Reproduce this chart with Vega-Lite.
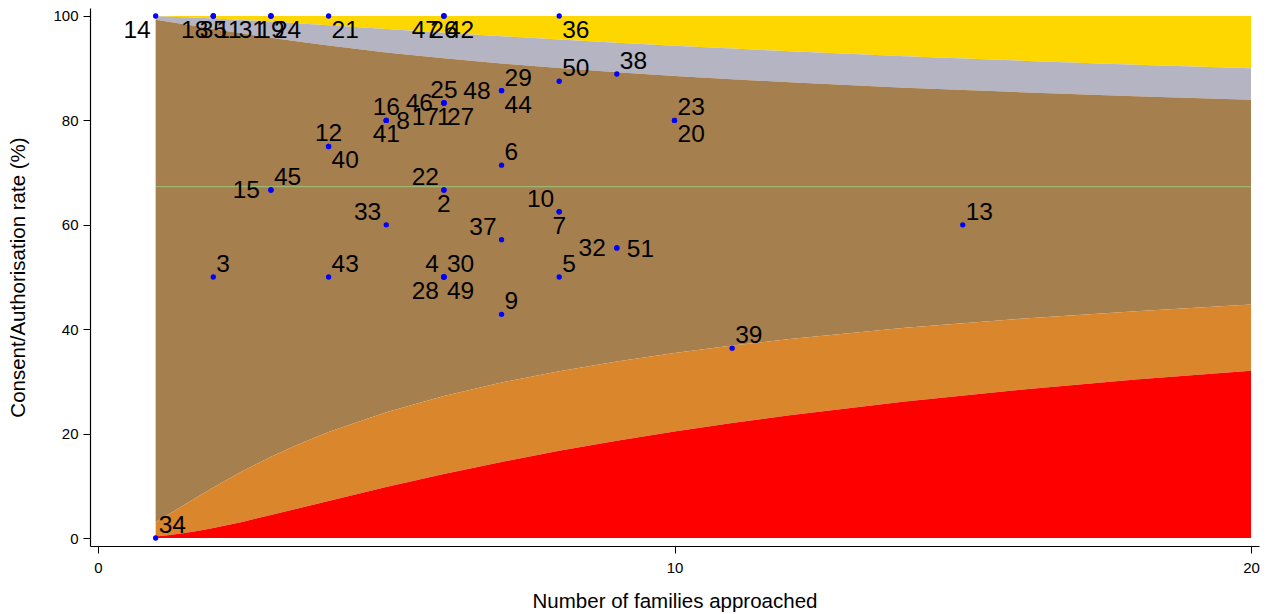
{
  "$schema": "https://vega.github.io/schema/vega-lite/v6.json",
  "width": 1169,
  "height": 538,
  "autosize": {"type": "none"},
  "padding": {"left": 90, "top": 8, "right": 10, "bottom": 68},
  "background": "white",
  "config": {"view": {"stroke": null}, "font": "Liberation Sans"},
  "datasets": {
    "bands": [
      {"n": 1, "l998": 0.28, "l95": 3.06, "u95": 99.26, "u998": 99.93},
      {"n": 1.25, "l998": 0.57, "l95": 4.68, "u95": 98.86, "u998": 99.87},
      {"n": 1.5, "l998": 0.94, "l95": 6.36, "u95": 98.42, "u998": 99.78},
      {"n": 1.75, "l998": 1.40, "l95": 8.04, "u95": 97.98, "u998": 99.67},
      {"n": 2, "l998": 1.92, "l95": 9.69, "u95": 97.53, "u998": 99.54},
      {"n": 2.5, "l998": 3.09, "l95": 12.78, "u95": 96.66, "u998": 99.25},
      {"n": 3, "l998": 4.39, "l95": 15.57, "u95": 95.83, "u998": 98.93},
      {"n": 3.5, "l998": 5.74, "l95": 18.07, "u95": 95.05, "u998": 98.58},
      {"n": 4, "l998": 7.10, "l95": 20.31, "u95": 94.33, "u998": 98.23},
      {"n": 5, "l998": 9.76, "l95": 24.11, "u95": 93.03, "u998": 97.51},
      {"n": 6, "l998": 12.27, "l95": 27.21, "u95": 91.89, "u998": 96.80},
      {"n": 7, "l998": 14.58, "l95": 29.79, "u95": 90.90, "u998": 96.13},
      {"n": 8, "l998": 16.70, "l95": 31.96, "u95": 90.02, "u998": 95.48},
      {"n": 9, "l998": 18.63, "l95": 33.83, "u95": 89.23, "u998": 94.87},
      {"n": 10, "l998": 20.40, "l95": 35.45, "u95": 88.52, "u998": 94.29},
      {"n": 11, "l998": 22.02, "l95": 36.87, "u95": 87.88, "u998": 93.75},
      {"n": 12, "l998": 23.51, "l95": 38.12, "u95": 87.30, "u998": 93.24},
      {"n": 14, "l998": 26.14, "l95": 40.26, "u95": 86.27, "u998": 92.29},
      {"n": 16, "l998": 28.39, "l95": 42.00, "u95": 85.40, "u998": 91.44},
      {"n": 18, "l998": 30.35, "l95": 43.46, "u95": 84.64, "u998": 90.67},
      {"n": 20, "l998": 32.06, "l95": 44.71, "u95": 83.97, "u998": 89.98}
    ],
    "pts": [
      {"id": "14", "n": 1, "rate": 100, "pos": "7"},
      {"id": "18", "n": 2, "rate": 100, "pos": "7"},
      {"id": "35", "n": 2, "rate": 100, "pos": "6"},
      {"id": "11", "n": 2, "rate": 100, "pos": "5"},
      {"id": "31", "n": 3, "rate": 100, "pos": "7"},
      {"id": "19", "n": 3, "rate": 100, "pos": "6"},
      {"id": "24", "n": 3, "rate": 100, "pos": "5"},
      {"id": "21", "n": 4, "rate": 100, "pos": "5"},
      {"id": "47", "n": 6, "rate": 100, "pos": "7"},
      {"id": "26", "n": 6, "rate": 100, "pos": "6"},
      {"id": "42", "n": 6, "rate": 100, "pos": "5"},
      {"id": "36", "n": 8, "rate": 100, "pos": "5"},
      {"id": "50", "n": 8, "rate": 87.5, "pos": "1"},
      {"id": "38", "n": 9, "rate": 88.89, "pos": "1"},
      {"id": "29", "n": 7, "rate": 85.71, "pos": "1"},
      {"id": "44", "n": 7, "rate": 85.71, "pos": "5"},
      {"id": "48", "n": 7, "rate": 85.71, "pos": "9"},
      {"id": "25", "n": 6, "rate": 83.33, "pos": "12"},
      {"id": "27", "n": 6, "rate": 83.33, "pos": "5"},
      {"id": "17", "n": 6, "rate": 83.33, "pos": "7"},
      {"id": "1", "n": 6, "rate": 83.33, "pos": "6"},
      {"id": "46", "n": 6, "rate": 83.33, "pos": "9"},
      {"id": "16", "n": 5, "rate": 80, "pos": "12"},
      {"id": "41", "n": 5, "rate": 80, "pos": "6"},
      {"id": "8", "n": 5, "rate": 80, "pos": "3"},
      {"id": "12", "n": 4, "rate": 75, "pos": "12"},
      {"id": "40", "n": 4, "rate": 75, "pos": "5"},
      {"id": "15", "n": 3, "rate": 66.67, "pos": "9"},
      {"id": "45", "n": 3, "rate": 66.67, "pos": "1"},
      {"id": "22", "n": 6, "rate": 66.67, "pos": "11"},
      {"id": "2", "n": 6, "rate": 66.67, "pos": "6"},
      {"id": "6", "n": 7, "rate": 71.43, "pos": "1"},
      {"id": "33", "n": 5, "rate": 60, "pos": "11"},
      {"id": "37", "n": 7, "rate": 57.14, "pos": "11"},
      {"id": "10", "n": 8, "rate": 62.5, "pos": "11"},
      {"id": "7", "n": 8, "rate": 62.5, "pos": "6"},
      {"id": "32", "n": 9, "rate": 55.56, "pos": "9"},
      {"id": "51", "n": 9, "rate": 55.56, "pos": "3"},
      {"id": "5", "n": 8, "rate": 50, "pos": "1"},
      {"id": "4", "n": 6, "rate": 50, "pos": "11"},
      {"id": "30", "n": 6, "rate": 50, "pos": "1"},
      {"id": "28", "n": 6, "rate": 50, "pos": "7"},
      {"id": "49", "n": 6, "rate": 50, "pos": "5"},
      {"id": "9", "n": 7, "rate": 42.86, "pos": "1"},
      {"id": "3", "n": 2, "rate": 50, "pos": "1"},
      {"id": "43", "n": 4, "rate": 50, "pos": "1"},
      {"id": "34", "n": 1, "rate": 0, "pos": "1"},
      {"id": "39", "n": 11, "rate": 36.36, "pos": "1"},
      {"id": "13", "n": 15, "rate": 60, "pos": "1"},
      {"id": "23", "n": 10, "rate": 80, "pos": "1"},
      {"id": "20", "n": 10, "rate": 80, "pos": "5"}
    ]
  },
  "layer": [
    {
      "data": {"name": "bands"},
      "mark": {"type": "area", "color": "#FFD700", "opacity": 1},
      "encoding": {
        "x": {"field": "n", "type": "quantitative", "scale": {"domain": [-0.1388, 20.1388], "nice": false, "zero": false},
          "axis": {"title": "Number of families approached", "values": [0, 10, 20], "format": "d", "grid": false,
            "domainColor": "#000000", "domainWidth": 1.2, "tickColor": "#000000", "tickSize": 7, "tickWidth": 1,
            "labelFont": "Liberation Sans", "labelFontSize": 15, "labelColor": "#000000", "labelPadding": 7,
            "titleFont": "Liberation Sans", "titleFontSize": 20.5, "titleFontWeight": "normal", "titleColor": "#000000",
            "titleX": 584.5, "titleY": 55, "titleBaseline": "middle", "titleAlign": "center"}},
        "y": {"field": "u998", "type": "quantitative", "scale": {"domain": [-1.531, 101.531], "nice": false, "zero": false},
          "axis": {"title": "Consent/Authorisation rate (%)", "values": [0, 20, 40, 60, 80, 100], "format": "d", "grid": false,
            "domainColor": "#000000", "domainWidth": 1.2, "tickColor": "#000000", "tickSize": 7, "tickWidth": 1,
            "labelFont": "Liberation Sans", "labelFontSize": 15, "labelColor": "#000000", "labelPadding": 5,
            "titleFont": "Liberation Sans", "titleFontSize": 20.5, "titleFontWeight": "normal", "titleColor": "#000000",
            "titleX": -72, "titleY": 269, "titleBaseline": "middle", "titleAlign": "center", "titleAngle": -90}},
        "y2": {"datum": 100}
      }
    },
    {
      "data": {"name": "bands"},
      "mark": {"type": "area", "color": "#B4B4C2", "opacity": 1},
      "encoding": {
        "x": {"field": "n", "type": "quantitative"},
        "y": {"field": "u95", "type": "quantitative"},
        "y2": {"field": "u998"}
      }
    },
    {
      "data": {"name": "bands"},
      "mark": {"type": "area", "color": "#A67F4F", "opacity": 1},
      "encoding": {
        "x": {"field": "n", "type": "quantitative"},
        "y": {"field": "l95", "type": "quantitative"},
        "y2": {"field": "u95"}
      }
    },
    {
      "data": {"name": "bands"},
      "mark": {"type": "area", "color": "#D9862C", "opacity": 1},
      "encoding": {
        "x": {"field": "n", "type": "quantitative"},
        "y": {"field": "l998", "type": "quantitative"},
        "y2": {"field": "l95"}
      }
    },
    {
      "data": {"name": "bands"},
      "mark": {"type": "area", "color": "#FF0000", "opacity": 1},
      "encoding": {
        "x": {"field": "n", "type": "quantitative"},
        "y": {"field": "l998", "type": "quantitative"},
        "y2": {"datum": 0}
      }
    },
    {
      "data": {"values": [{"target": 67.3, "from": 1, "to": 20}]},
      "mark": {"type": "rule", "color": "#9CC47E", "strokeWidth": 1},
      "encoding": {
        "x": {"field": "from", "type": "quantitative"},
        "x2": {"field": "to"},
        "y": {"field": "target", "type": "quantitative"}
      }
    },
    {
      "data": {"name": "pts"},
      "mark": {"type": "point", "filled": true, "color": "#0000FF", "size": 28, "opacity": 1},
      "encoding": {
        "x": {"field": "n", "type": "quantitative"},
        "y": {"field": "rate", "type": "quantitative"}
      }
    },
    {
      "data": {"name": "pts"},
      "transform": [{"filter": "datum.pos == '1'"}],
      "mark": {"type": "text", "align": "left", "baseline": "middle", "dx": 3, "dy": -12, "fontSize": 24.5, "font": "Liberation Sans", "color": "#000000"},
      "encoding": {"x": {"field": "n", "type": "quantitative"}, "y": {"field": "rate", "type": "quantitative"}, "text": {"field": "id"}}
    },
    {
      "data": {"name": "pts"},
      "transform": [{"filter": "datum.pos == '3'"}],
      "mark": {"type": "text", "align": "left", "baseline": "middle", "dx": 10, "dy": 2, "fontSize": 24.5, "font": "Liberation Sans", "color": "#000000"},
      "encoding": {"x": {"field": "n", "type": "quantitative"}, "y": {"field": "rate", "type": "quantitative"}, "text": {"field": "id"}}
    },
    {
      "data": {"name": "pts"},
      "transform": [{"filter": "datum.pos == '5'"}],
      "mark": {"type": "text", "align": "left", "baseline": "middle", "dx": 3, "dy": 15, "fontSize": 24.5, "font": "Liberation Sans", "color": "#000000"},
      "encoding": {"x": {"field": "n", "type": "quantitative"}, "y": {"field": "rate", "type": "quantitative"}, "text": {"field": "id"}}
    },
    {
      "data": {"name": "pts"},
      "transform": [{"filter": "datum.pos == '6'"}],
      "mark": {"type": "text", "align": "center", "baseline": "middle", "dx": 0, "dy": 15, "fontSize": 24.5, "font": "Liberation Sans", "color": "#000000"},
      "encoding": {"x": {"field": "n", "type": "quantitative"}, "y": {"field": "rate", "type": "quantitative"}, "text": {"field": "id"}}
    },
    {
      "data": {"name": "pts"},
      "transform": [{"filter": "datum.pos == '7'"}],
      "mark": {"type": "text", "align": "right", "baseline": "middle", "dx": -5, "dy": 15, "fontSize": 24.5, "font": "Liberation Sans", "color": "#000000"},
      "encoding": {"x": {"field": "n", "type": "quantitative"}, "y": {"field": "rate", "type": "quantitative"}, "text": {"field": "id"}}
    },
    {
      "data": {"name": "pts"},
      "transform": [{"filter": "datum.pos == '9'"}],
      "mark": {"type": "text", "align": "right", "baseline": "middle", "dx": -11, "dy": 1, "fontSize": 24.5, "font": "Liberation Sans", "color": "#000000"},
      "encoding": {"x": {"field": "n", "type": "quantitative"}, "y": {"field": "rate", "type": "quantitative"}, "text": {"field": "id"}}
    },
    {
      "data": {"name": "pts"},
      "transform": [{"filter": "datum.pos == '11'"}],
      "mark": {"type": "text", "align": "right", "baseline": "middle", "dx": -5, "dy": -12, "fontSize": 24.5, "font": "Liberation Sans", "color": "#000000"},
      "encoding": {"x": {"field": "n", "type": "quantitative"}, "y": {"field": "rate", "type": "quantitative"}, "text": {"field": "id"}}
    },
    {
      "data": {"name": "pts"},
      "transform": [{"filter": "datum.pos == '12'"}],
      "mark": {"type": "text", "align": "center", "baseline": "middle", "dx": 0, "dy": -12, "fontSize": 24.5, "font": "Liberation Sans", "color": "#000000"},
      "encoding": {"x": {"field": "n", "type": "quantitative"}, "y": {"field": "rate", "type": "quantitative"}, "text": {"field": "id"}}
    }
  ]
}
